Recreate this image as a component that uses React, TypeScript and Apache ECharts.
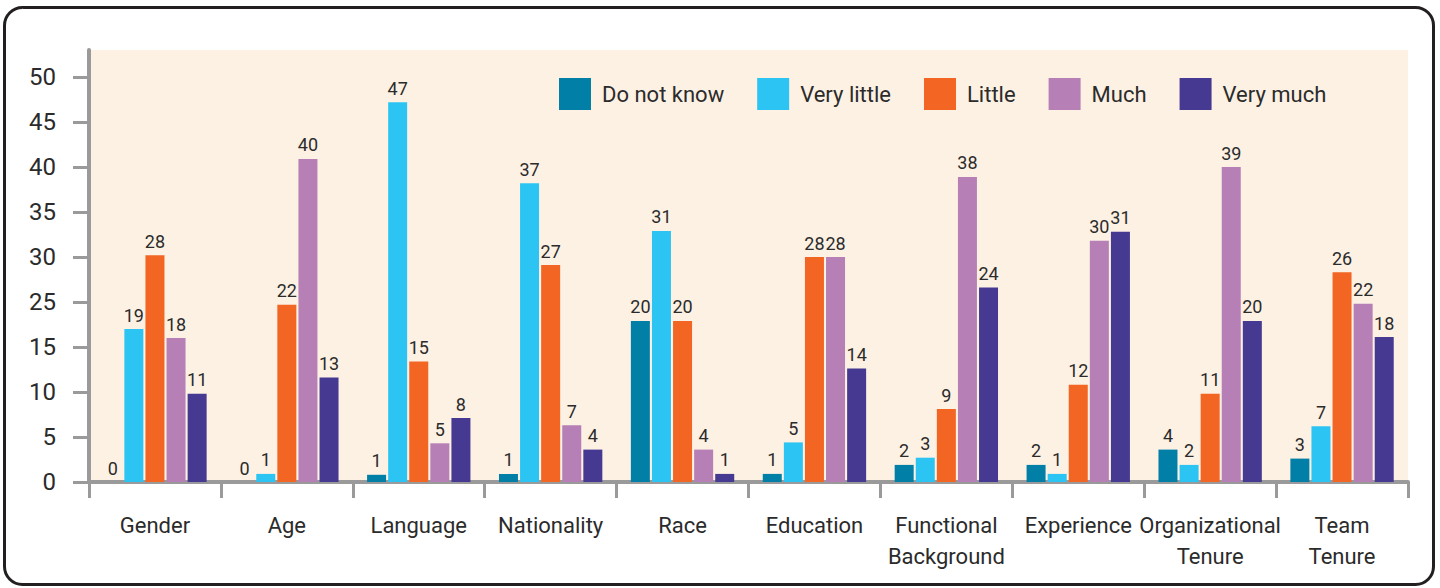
import React, { useEffect, useRef } from "react";
import * as echarts from "echarts";

const categories = [
  "Gender",
  "Age",
  "Language",
  "Nationality",
  "Race",
  "Education",
  "Functional\nBackground",
  "Experience",
  "Organizational\nTenure",
  "Team\nTenure",
];

const seriesNames = ["Do not know", "Very little", "Little", "Much", "Very much"];
const seriesColors = ["#027fa6", "#2cc4f2", "#f26522", "#b67fb6", "#463992"];

// Tick positions on the drawn axis and the labels printed at them (the source skips "20")
const yTickPositions = [0, 5, 10, 15, 20, 25, 30, 35, 40, 45];
const yTickLabels = ["0", "5", "10", "15", "25", "30", "35", "40", "45", "50"];

// Bar heights as drawn, measured against the axis tick positions
const doNotKnowHeights = [0, 0, 0.8, 0.9, 17.9, 0.9, 1.9, 1.9, 3.6, 2.6];
const veryLittleHeights = [17.0, 0.9, 42.2, 33.2, 27.9, 4.4, 2.7, 0.9, 1.9, 6.2];
const littleHeights = [25.2, 19.7, 13.4, 24.1, 17.9, 25.0, 8.1, 10.8, 9.8, 23.3];
const muchHeights = [16.0, 35.9, 4.3, 6.3, 3.6, 25.0, 33.9, 26.8, 35.0, 19.8];
const veryMuchHeights = [9.8, 11.6, 7.1, 3.6, 0.9, 12.6, 21.6, 27.8, 17.9, 16.1];

// Values printed above the bars
const doNotKnowLabels = [0, 0, 1, 1, 20, 1, 2, 2, 4, 3];
const veryLittleLabels = [19, 1, 47, 37, 31, 5, 3, 1, 2, 7];
const littleLabels = [28, 22, 15, 27, 20, 28, 9, 12, 11, 26];
const muchLabels = [18, 40, 5, 7, 4, 28, 38, 30, 39, 22];
const veryMuchLabels = [11, 13, 8, 4, 1, 14, 24, 31, 20, 18];

const heights = [doNotKnowHeights, veryLittleHeights, littleHeights, muchHeights, veryMuchHeights];
const printed = [doNotKnowLabels, veryLittleLabels, littleLabels, muchLabels, veryMuchLabels];

const FONT = "Roboto, 'Liberation Sans', Arial, sans-serif";
const TEXT = "#2b2b2b";
const AXIS = "#9a9a9a";

export default function App() {
  const ref = useRef<HTMLDivElement>(null);

  useEffect(() => {
    if (!ref.current) return;
    const chart = echarts.init(ref.current, null, { renderer: "svg" });
    chart.setOption({
      animation: false,
      textStyle: { fontFamily: FONT },
      graphic: [
        {
          type: "rect",
          shape: { x: 4.5, y: 7.5, width: 1429, height: 577, r: 18 },
          style: { fill: "transparent", stroke: "#231f20", lineWidth: 3 },
          z: 100,
        },
      ],
      legend: {
        left: 559,
        top: 78,
        padding: 0,
        itemWidth: 32,
        itemHeight: 32,
        itemGap: 33,
        icon: "rect",
        textStyle: { fontSize: 22, color: TEXT, fontFamily: FONT, padding: [0, 0, 0, 6] },
        data: seriesNames,
      },
      grid: {
        left: 89,
        right: 32,
        top: 50,
        bottom: 106,
        show: true,
        backgroundColor: "#fdf1e4",
        borderWidth: 0,
      },
      xAxis: {
        type: "category",
        data: categories,
        axisLine: { show: true, lineStyle: { color: AXIS, width: 4 } },
        axisTick: { show: true, length: 16, lineStyle: { color: AXIS, width: 3 } },
        axisLabel: {
          fontSize: 22,
          color: TEXT,
          fontFamily: FONT,
          margin: 28,
          lineHeight: 31,
          interval: 0,
        },
      },
      yAxis: {
        type: "value",
        min: 0,
        max: 48,
        splitLine: { show: false },
        axisLine: { show: true, lineStyle: { color: AXIS, width: 4 } },
        axisTick: {
          show: true,
          length: 16,
          lineStyle: { color: AXIS, width: 3 },
          customValues: yTickPositions,
        },
        axisLabel: {
          fontSize: 24,
          color: TEXT,
          fontFamily: FONT,
          margin: 33,
          customValues: yTickPositions,
          formatter: (v: number) => {
            const idx = yTickPositions.indexOf(Math.round(v));
            return idx >= 0 ? yTickLabels[idx] : "";
          },
        },
      },
      series: seriesNames.map((name, i) => ({
        name,
        type: "bar",
        data: heights[i],
        barWidth: 19,
        barGap: "11%",
        itemStyle: { color: seriesColors[i] },
        label: {
          show: true,
          position: "top",
          distance: 5,
          fontSize: 18,
          color: TEXT,
          fontFamily: FONT,
          formatter: (p: any) => String(printed[i][p.dataIndex]),
        },
      })),
    });
    return () => chart.dispose();
  }, []);

  return (
    <div
      ref={ref}
      style={{ position: "absolute", left: 0, top: 0, width: 1440, height: 588, background: "#fff" }}
    />
  );
}
